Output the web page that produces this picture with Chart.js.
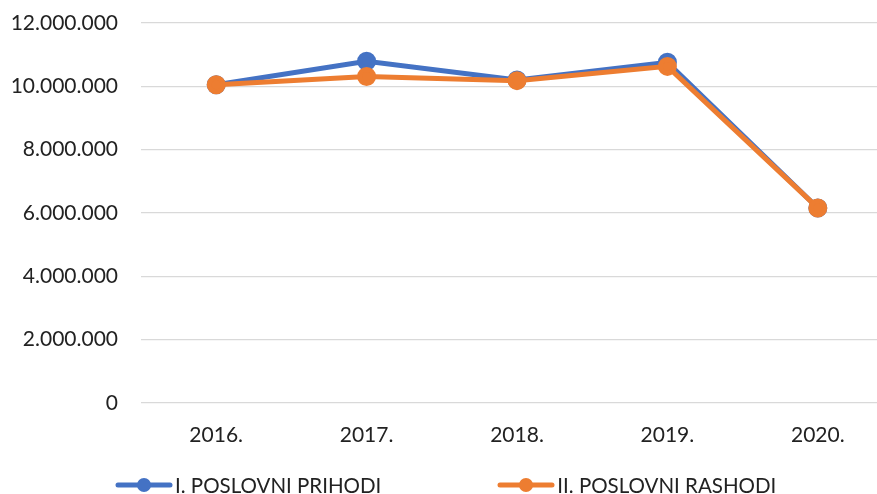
<!DOCTYPE html>
<html>
<head>
<meta charset="utf-8">
<script src="https://cdn.jsdelivr.net/npm/chart.js@4/dist/chart.umd.min.js"></script>
<style>
  html, body { margin: 0; padding: 0; background: #fff; overflow: hidden; }
  #wrap { position: relative; width: 900px; height: 494px; }
  #legend {
    position: absolute; left: 115px; top: 472px; height: 26px;
    display: flex; align-items: center;
    font-family: Lato, sans-serif; font-size: 20.5px; color: #222;
  }
  #legend .item { display: flex; align-items: center; }
  #legend .item canvas { margin-right: 2px; }
</style>
</head>
<body>
<div id="wrap">
  <canvas id="lineChart" width="900" height="494"></canvas>
  <div id="legend"></div>
</div>
<script>
const years = ["2016.", "2017.", "2018.", "2019.", "2020."];
const prihodi = [10050000, 10790000, 10200000, 10760000, 6160000];
const rashodi = [10050000, 10310000, 10180000, 10630000, 6160000];
const seriesNames = ["I. POSLOVNI PRIHODI", "II. POSLOVNI RASHODI"];
const yTicks = [0, 2000000, 4000000, 6000000, 8000000, 10000000, 12000000];

const blue = "#4472C4";
const orange = "#ED7D31";

function formatNum(v) {
  return v.toString().replace(/\B(?=(\d{3})+(?!\d))/g, ".");
}

// legend marker: line with a dot in the middle
function legendMarker(color) {
  const c = document.createElement("canvas");
  c.width = 58;
  c.height = 16;
  const g = c.getContext("2d");
  g.strokeStyle = color;
  g.lineWidth = 5;
  g.lineCap = "round";
  g.beginPath();
  g.moveTo(3, 8);
  g.lineTo(55, 8);
  g.stroke();
  g.fillStyle = color;
  g.beginPath();
  g.arc(29, 8, 7, 0, Math.PI * 2);
  g.fill();
  return c;
}

const ctx = document.getElementById("lineChart").getContext("2d");
const chart = new Chart(ctx, {
  type: "line",
  data: {
    labels: years,
    datasets: [
      {
        label: seriesNames[0],
        data: prihodi,
        borderColor: blue,
        backgroundColor: blue,
        borderWidth: 5,
        pointRadius: 7,
        pointHoverRadius: 7,
        order: 2,
      },
      {
        label: seriesNames[1],
        data: rashodi,
        borderColor: orange,
        backgroundColor: orange,
        borderWidth: 5,
        pointRadius: 7,
        pointHoverRadius: 7,
        order: 1,
      },
    ],
  },
  options: {
    responsive: false,
    animation: false,
    layout: { autoPadding: false, padding: { left: 10, right: 7, top: 23, bottom: 31 } },
    scales: {
      x: {
        offset: true,
        grid: { display: false },
        border: { display: false },
        afterFit: (scale) => {
          scale.height = 60;
          scale.paddingLeft = 0;
          scale.paddingRight = 0;
        },
        ticks: { color: "#222", font: { family: "Lato", size: 21 }, padding: 12 },
      },
      y: {
        min: 0,
        max: 12000000,
        afterBuildTicks: (scale) => {
          scale.ticks = yTicks.map((v) => ({ value: v }));
        },
        afterFit: (scale) => {
          scale.width = 131;
          scale.paddingTop = 0;
          scale.paddingBottom = 0;
        },
        grid: { color: "#d9d9d9", lineWidth: 1.3, drawTicks: false },
        border: { display: false },
        ticks: {
          color: "#222",
          font: { family: "Lato", size: 21 },
          padding: 23,
          callback: (v) => formatNum(v),
        },
      },
    },
    plugins: {
      tooltip: { enabled: false },
      legend: { display: false },
    },
  },
});

// legend built from the datasets
const legendEl = document.getElementById("legend");
chart.data.datasets.forEach((ds, i) => {
  const item = document.createElement("div");
  item.className = "item";
  if (i > 0) item.style.marginLeft = "116px";
  item.appendChild(legendMarker(ds.borderColor));
  const txt = document.createElement("span");
  txt.textContent = ds.label;
  item.appendChild(txt);
  legendEl.appendChild(item);
});
</script>
</body>
</html>
